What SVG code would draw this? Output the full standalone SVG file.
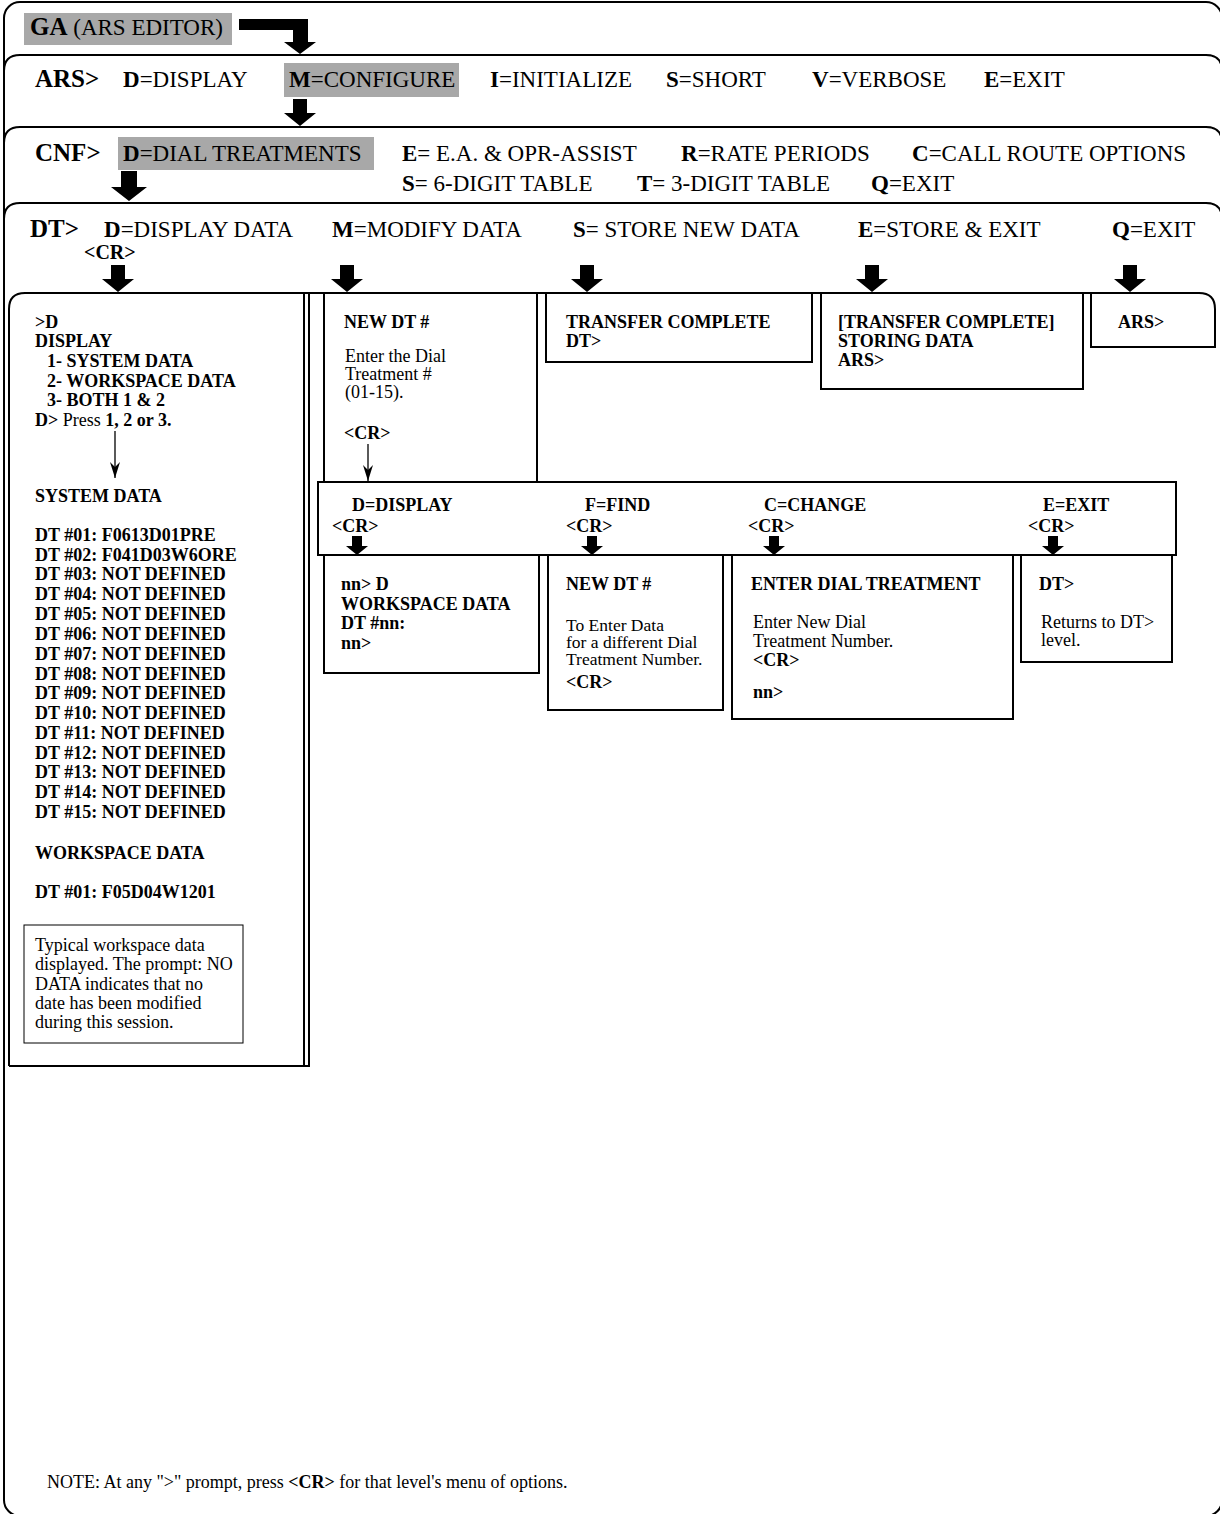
<svg xmlns="http://www.w3.org/2000/svg" width="1220" height="1514" viewBox="0 0 1220 1514">
  <style>
    .frame { fill: none; stroke: #000; stroke-width: 2; }
    .box { fill: #fff; stroke: #000; stroke-width: 2; }
    .note { fill: #fff; stroke: #000; stroke-width: 1; }
    .hl { fill: #a8a8a8; }
    text { font-family: "Liberation Serif", "Times New Roman", serif; fill: #000; }
    .h { font-size: 23px; }
    .p { font-size: 25px; font-weight: bold; }
    .s { font-size: 18px; }
    .r { font-size: 17.5px; }
    .b { font-weight: bold; }
    .thin { stroke: #000; stroke-width: 1.3; fill: none; }
  </style>
  <defs>
    <path id="bigArrow" d="M-7,-27 H7 V-13 H16 L0,0 L-16,-13 H-7 Z"/>
    <path id="smallArrow" d="M-5,-19 H5 V-9 H11 L0,0 L-11,-9 H-5 Z"/>
    <marker id="tip" viewBox="0 0 16 10" refX="16" refY="5" markerWidth="16" markerHeight="10" markerUnits="userSpaceOnUse" orient="auto">
      <path d="M0,0 L16,5 L0,10 L5,5 Z" fill="#000"/>
    </marker>
  </defs>

  <!-- stacked menu level frames -->
  <g id="frames">
    <rect x="4" y="2" width="1218" height="1514" rx="16" fill="#fff" stroke="#000" stroke-width="2"/>
    <path class="frame" d="M4,1495 V71 Q4,55 20,55 H1206 Q1222,55 1222,71 V1495"/>
    <path class="frame" d="M4,1495 V143 Q4,127 20,127 H1206 Q1222,127 1222,143 V1495"/>
    <path class="frame" d="M4,1495 V219 Q4,203 20,203 H1206 Q1222,203 1222,219 V1495"/>
    <path class="frame" d="M9,1066 V309 Q9,293 25,293 H1199 Q1215,293 1215,309 V347 H1091 V293"/>
  </g>

  <!-- GA level -->
  <g id="ga">
    <rect class="hl" x="24" y="13" width="208" height="32"/>
    <text x="30" y="35"><tspan class="p">GA</tspan><tspan class="h"> (ARS EDITOR)</tspan></text>
  </g>

  <!-- ARS level menu -->
  <g id="ars-menu">
    <rect class="hl" x="284" y="63" width="175" height="34"/>
    <text class="p" x="35" y="87">ARS&gt;</text>
    <text class="h" x="123" y="87"><tspan class="b">D</tspan>=DISPLAY</text>
    <text class="h" x="289" y="87"><tspan class="b">M</tspan>=CONFIGURE</text>
    <text class="h" x="490" y="87"><tspan class="b">I</tspan>=INITIALIZE</text>
    <text class="h" x="666" y="87"><tspan class="b">S</tspan>=SHORT</text>
    <text class="h" x="812" y="87"><tspan class="b">V</tspan>=VERBOSE</text>
    <text class="h" x="984" y="87"><tspan class="b">E</tspan>=EXIT</text>
  </g>

  <!-- CNF level menu -->
  <g id="cnf-menu">
    <rect class="hl" x="118" y="137" width="256" height="33"/>
    <text class="p" x="35" y="161">CNF&gt;</text>
    <text class="h" x="123" y="161"><tspan class="b">D</tspan>=DIAL TREATMENTS</text>
    <text class="h" x="402" y="161"><tspan class="b">E</tspan>= E.A. &amp; OPR-ASSIST</text>
    <text class="h" x="681" y="161"><tspan class="b">R</tspan>=RATE PERIODS</text>
    <text class="h" x="912" y="161"><tspan class="b">C</tspan>=CALL ROUTE OPTIONS</text>
    <text class="h" x="402" y="191"><tspan class="b">S</tspan>= 6-DIGIT TABLE</text>
    <text class="h" x="637" y="191"><tspan class="b">T</tspan>= 3-DIGIT TABLE</text>
    <text class="h" x="871" y="191"><tspan class="b">Q</tspan>=EXIT</text>
  </g>

  <!-- DT level menu -->
  <g id="dt-menu">
    <text class="p" x="30" y="237">DT&gt;</text>
    <text class="h" x="104" y="237"><tspan class="b">D</tspan>=DISPLAY DATA</text>
    <text class="b" x="84" y="259" font-size="20">&lt;CR&gt;</text>
    <text class="h" x="332" y="237"><tspan class="b">M</tspan>=MODIFY DATA</text>
    <text class="h" x="573" y="237"><tspan class="b">S</tspan>= STORE NEW DATA</text>
    <text class="h" x="858" y="237"><tspan class="b">E</tspan>=STORE &amp; EXIT</text>
    <text class="h" x="1112" y="237"><tspan class="b">Q</tspan>=EXIT</text>
  </g>

  <!-- display data panel -->
  <g id="display-data">
    <line class="frame" x1="304" y1="293" x2="304" y2="1066"/>
    <path class="frame" d="M9,1066 H309 V293"/>
    <g class="s b">
      <text x="35" y="328">&gt;D</text>
      <text x="35" y="347">DISPLAY</text>
      <text x="47" y="367">1- SYSTEM DATA</text>
      <text x="47" y="387">2- WORKSPACE DATA</text>
      <text x="47" y="406">3- BOTH 1 &amp; 2</text>
      <text x="35" y="426">D&gt;<tspan font-weight="normal"> Press </tspan> 1, 2 or 3.</text>
      <text x="35" y="502">SYSTEM DATA</text>
      <text x="35" y="541">DT #01: F0613D01PRE</text>
      <text x="35" y="561">DT #02: F041D03W6ORE</text>
      <text x="35" y="580">DT #03: NOT DEFINED</text>
      <text x="35" y="600">DT #04: NOT DEFINED</text>
      <text x="35" y="620">DT #05: NOT DEFINED</text>
      <text x="35" y="640">DT #06: NOT DEFINED</text>
      <text x="35" y="660">DT #07: NOT DEFINED</text>
      <text x="35" y="680">DT #08: NOT DEFINED</text>
      <text x="35" y="699">DT #09: NOT DEFINED</text>
      <text x="35" y="719">DT #10: NOT DEFINED</text>
      <text x="35" y="739">DT #11: NOT DEFINED</text>
      <text x="35" y="759">DT #12: NOT DEFINED</text>
      <text x="35" y="778">DT #13: NOT DEFINED</text>
      <text x="35" y="798">DT #14: NOT DEFINED</text>
      <text x="35" y="818">DT #15: NOT DEFINED</text>
      <text x="35" y="859">WORKSPACE DATA</text>
      <text x="35" y="898">DT #01: F05D04W1201</text>
    </g>
  </g>

  <!-- explanatory note inside display panel -->
  <g id="workspace-note">
    <rect class="note" x="24" y="925" width="219" height="118"/>
    <g class="s">
      <text x="35" y="951">Typical workspace data</text>
      <text x="35" y="970">displayed. The prompt: NO</text>
      <text x="35" y="990">DATA indicates that no</text>
      <text x="35" y="1009">date has been modified</text>
      <text x="35" y="1028">during this session.</text>
    </g>
  </g>

  <!-- modify data: new DT number -->
  <g id="modify-data">
    <rect class="box" x="324" y="293" width="213" height="189"/>
    <text class="s b" x="344" y="328">NEW DT #</text>
    <text class="s" x="345" y="362">Enter the Dial</text>
    <text class="s" x="345" y="380">Treatment #</text>
    <text class="s" x="345" y="398">(01-15).</text>
    <text class="s b" x="344" y="439">&lt;CR&gt;</text>
  </g>

  <!-- store new data -->
  <g id="store-new">
    <rect class="box" x="546" y="293" width="266" height="69"/>
    <text class="s b" x="566" y="328">TRANSFER COMPLETE</text>
    <text class="s b" x="566" y="347">DT&gt;</text>
  </g>

  <!-- store and exit -->
  <g id="store-exit">
    <rect class="box" x="821" y="293" width="262" height="96"/>
    <text class="s b" x="838" y="328">[TRANSFER COMPLETE]</text>
    <text class="s b" x="838" y="347">STORING DATA</text>
    <text class="s b" x="838" y="366">ARS&gt;</text>
  </g>

  <!-- exit to ARS -->
  <g id="dt-exit">
    <text class="s b" x="1118" y="328">ARS&gt;</text>
  </g>

  <!-- modify submenu bar -->
  <g id="modify-menu">
    <rect class="box" x="318" y="482" width="858" height="73"/>
    <g class="s b">
      <text x="352" y="511">D=DISPLAY</text>
      <text x="332" y="532">&lt;CR&gt;</text>
      <text x="585" y="511">F=FIND</text>
      <text x="566" y="532">&lt;CR&gt;</text>
      <text x="764" y="511">C=CHANGE</text>
      <text x="748" y="532">&lt;CR&gt;</text>
      <text x="1043" y="511">E=EXIT</text>
      <text x="1028" y="532">&lt;CR&gt;</text>
    </g>
  </g>

  <g id="mod-display">
    <rect class="box" x="324" y="555" width="215" height="118"/>
    <g class="s b">
      <text x="341" y="590">nn&gt; D</text>
      <text x="341" y="610">WORKSPACE DATA</text>
      <text x="341" y="629">DT #nn:</text>
      <text x="341" y="649">nn&gt;</text>
    </g>
  </g>

  <g id="mod-find">
    <rect class="box" x="548" y="555" width="175" height="155"/>
    <text class="s b" x="566" y="590">NEW DT #</text>
    <text class="r" x="566" y="631">To Enter Data</text>
    <text class="r" x="566" y="648">for a different Dial</text>
    <text class="r" x="566" y="665">Treatment Number.</text>
    <text class="s b" x="566" y="688">&lt;CR&gt;</text>
  </g>

  <g id="mod-change">
    <rect class="box" x="732" y="555" width="281" height="164"/>
    <text class="s b" x="751" y="590">ENTER DIAL TREATMENT</text>
    <text class="s" x="753" y="628">Enter New Dial</text>
    <text class="s" x="753" y="647">Treatment Number.</text>
    <text class="s b" x="753" y="666">&lt;CR&gt;</text>
    <text class="s b" x="753" y="698">nn&gt;</text>
  </g>

  <g id="mod-exit">
    <rect class="box" x="1021" y="555" width="151" height="107"/>
    <text class="s b" x="1039" y="590">DT&gt;</text>
    <text class="s" x="1041" y="628">Returns to DT&gt;</text>
    <text class="s" x="1041" y="646">level.</text>
  </g>

  <!-- connectors -->
  <g id="connectors">
    <path d="M239,19 H308 V42 H316 L300,54 L284,42 H293 V30 H239 Z"/>
    <use href="#bigArrow" x="300" y="126"/>
    <path d="M121,171 H137 V187 H147 L129,201 L111,187 H121 Z"/>
    <use href="#bigArrow" x="118" y="292"/>
    <use href="#bigArrow" x="347" y="292"/>
    <use href="#bigArrow" x="587" y="292"/>
    <use href="#bigArrow" x="872" y="292"/>
    <use href="#bigArrow" x="1130" y="292"/>
    <use href="#smallArrow" x="357" y="555"/>
    <use href="#smallArrow" x="592" y="555"/>
    <use href="#smallArrow" x="774" y="555"/>
    <use href="#smallArrow" x="1053" y="555"/>
    <line class="thin" x1="115" y1="431" x2="115" y2="478" marker-end="url(#tip)"/>
    <line class="thin" x1="368" y1="444" x2="368" y2="481" marker-end="url(#tip)"/>
  </g>

  <!-- footnote -->
  <g id="footnote">
    <text class="s" x="47" y="1488">NOTE: At any "&gt;" prompt, press <tspan class="b">&lt;CR&gt;</tspan> for that level's menu of options.</text>
  </g>
</svg>
